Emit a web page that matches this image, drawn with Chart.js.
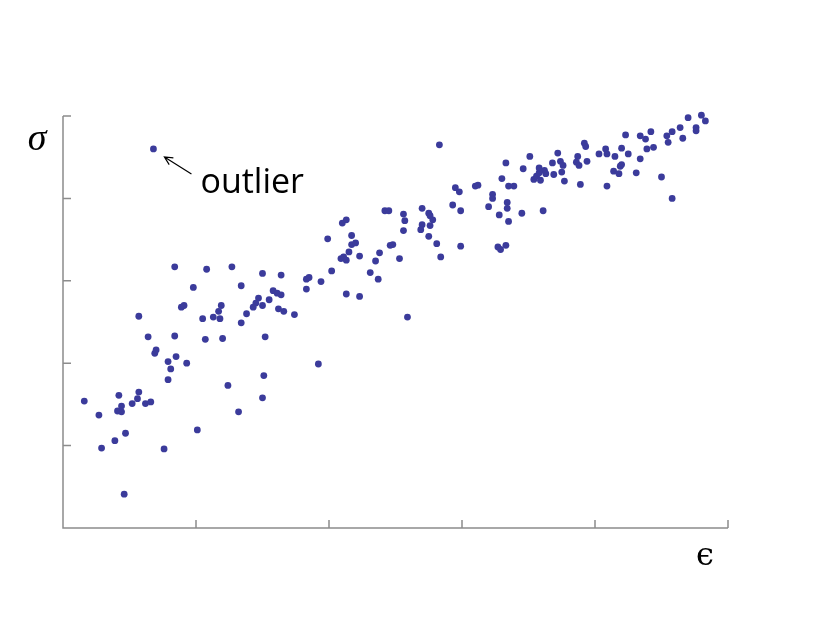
<!DOCTYPE html>
<html>
<head>
<meta charset="utf-8">
<script src="https://cdn.jsdelivr.net/npm/chart.js@4/dist/chart.umd.min.js"></script>
<style>
  html, body { margin: 0; padding: 0; background: #fff; }
  #wrap { width: 822px; height: 617px; }
</style>
</head>
<body>
<div id="wrap"><canvas id="scatterChart" width="822" height="617"></canvas></div>
<script>
// strain (epsilon) and stress (sigma), axis units 0..5
const strainValues = [
  0.16, 0.27, 0.29, 0.39, 0.47, 0.46, 0.42, 0.41, 0.44, 0.44,
  0.52, 0.56, 0.57, 0.62, 0.66, 0.76, 0.79, 0.81, 0.79, 0.85,
  0.93, 1.01, 1.24, 0.69, 0.70, 0.64, 0.84, 0.57, 0.89, 0.91,
  0.98, 0.84, 1.08, 1.27, 1.07, 1.20, 1.05, 1.13, 1.18, 1.17,
  1.19, 0.68, 1.50, 1.64, 1.34, 1.58, 1.61, 1.64, 1.47, 1.55,
  1.45, 1.43, 1.50, 1.38, 1.62, 1.66, 1.74, 1.34, 1.52, 1.92,
  1.51, 1.50, 1.32, 1.83, 1.85, 1.83, 1.94, 2.02, 1.99, 2.13,
  2.10, 2.17, 2.17, 2.20, 2.15, 2.09, 2.11, 2.13, 2.23, 2.13,
  2.23, 2.31, 2.35, 2.38, 2.37, 2.48, 2.46, 2.53, 2.42, 2.45,
  2.56, 2.57, 2.56, 2.70, 2.75, 2.76, 2.78, 2.70, 2.69, 2.76,
  2.75, 2.81, 2.84, 2.83, 2.93, 2.99, 2.95, 2.98, 2.99, 3.10,
  3.12, 3.20, 3.23, 3.23, 3.27, 3.29, 3.33, 3.28, 3.30, 3.33,
  3.34, 3.34, 3.35, 3.35, 3.39, 3.45, 3.46, 3.51, 3.54, 3.56,
  2.59, 3.58, 3.58, 3.59, 3.62, 3.63, 3.61, 3.68, 3.72, 3.69,
  3.74, 3.76, 3.75, 3.77, 3.87, 3.86, 3.88, 3.92, 3.93, 3.94,
  3.89, 4.03, 4.08, 4.09, 4.15, 4.09, 4.14, 4.18, 4.19, 4.20,
  4.20, 4.23, 4.25, 4.31, 4.34, 4.34, 4.38, 4.39, 4.44, 4.42,
  4.50, 4.58, 4.54, 4.55, 4.58, 4.66, 4.64, 4.70, 4.76, 4.76,
  4.80, 4.83
];
const stressValues = [
  1.54, 1.37, 0.97, 1.06, 1.15, 0.41, 1.61, 1.42, 1.41, 1.48,
  1.51, 1.57, 1.65, 1.51, 1.53, 0.96, 1.80, 1.93, 2.02, 2.08,
  2.00, 1.19, 1.73, 2.12, 2.16, 2.32, 2.33, 2.57, 2.68, 2.70,
  2.92, 3.17, 3.14, 3.17, 2.29, 2.30, 2.54, 2.56, 2.54, 2.63,
  2.70, 4.60, 3.09, 3.07, 2.94, 2.88, 2.85, 2.83, 2.79, 2.77,
  2.73, 2.68, 2.70, 2.60, 2.66, 2.63, 2.59, 2.49, 2.32, 1.99,
  1.85, 1.58, 1.41, 3.02, 3.04, 2.90, 2.99, 3.12, 3.51, 3.74,
  3.70, 3.55, 3.44, 3.46, 3.35, 3.27, 3.29, 3.25, 3.30, 2.84,
  2.81, 3.10, 3.24, 3.34, 3.02, 3.44, 3.43, 3.27, 3.85, 3.85,
  3.81, 3.73, 3.61, 3.88, 3.82, 3.79, 3.74, 3.68, 3.62, 3.67,
  3.54, 3.45, 3.29, 4.65, 3.92, 3.85, 4.13, 4.08, 3.42, 4.15,
  4.16, 3.90, 4.05, 4.00, 3.41, 3.38, 3.43, 3.80, 4.24, 4.43,
  3.95, 3.88, 3.72, 4.15, 4.15, 3.82, 4.36, 4.51, 4.23, 4.27,
  2.56, 4.31, 4.37, 4.22, 4.34, 4.30, 3.85, 4.43, 4.55, 4.29,
  4.45, 4.40, 4.32, 4.21, 4.51, 4.44, 4.40, 4.67, 4.63, 4.45,
  4.17, 4.54, 4.60, 4.54, 4.51, 4.15, 4.33, 4.30, 4.39, 4.41,
  4.61, 4.77, 4.54, 4.31, 4.48, 4.76, 4.72, 4.60, 4.62, 4.81,
  4.26, 4.00, 4.76, 4.68, 4.81, 4.73, 4.86, 4.98, 4.86, 4.82,
  5.01, 4.94
];
const xTickValues = [1, 2, 3, 4, 5];
const yTickValues = [1, 2, 3, 4, 5];
const outlierIndex = 41;

const points = strainValues.map((x, i) => ({ x: x, y: stressValues[i] }));

const axisColor = '#8c8c8c';

// draws the L-shaped axes with inward ticks, the symbols and the outlier note
const axesPlugin = {
    id: 'axesPlugin',
    afterDraw(chart) {
        const ctx = chart.ctx;
        const xs = chart.scales.x;
        const ys = chart.scales.y;
        const x0 = xs.getPixelForValue(0);
        const y0 = ys.getPixelForValue(0);
        const xEnd = xs.getPixelForValue(5);
        const yEnd = ys.getPixelForValue(5);
        const tick = 8;

        ctx.save();
        ctx.strokeStyle = axisColor;
        ctx.lineWidth = 1.5;
        ctx.beginPath();
        ctx.moveTo(x0, yEnd);
        ctx.lineTo(x0, y0);
        ctx.lineTo(xEnd, y0);
        xTickValues.forEach(v => {
            const px = xs.getPixelForValue(v);
            ctx.moveTo(px, y0);
            ctx.lineTo(px, y0 - tick);
        });
        yTickValues.forEach(v => {
            const py = ys.getPixelForValue(v);
            ctx.moveTo(x0, py);
            ctx.lineTo(x0 + tick, py);
        });
        ctx.stroke();

        // axis symbols
        ctx.fillStyle = '#000';
        ctx.textAlign = 'center';
        ctx.textBaseline = 'alphabetic';
        ctx.font = 'italic 38px "Liberation Serif"';
        ctx.fillText('σ', x0 - 26, yEnd + 34);
        ctx.font = '32px "DejaVu Serif"';
        ctx.fillText('ϵ', xEnd - 23, y0 + 37);

        // outlier note
        const ox = xs.getPixelForValue(strainValues[outlierIndex]);
        const oy = ys.getPixelForValue(stressValues[outlierIndex]);
        const hx = ox + 11, hy = oy + 8;
        const tx = ox + 38, ty = oy + 25;
        ctx.strokeStyle = '#000';
        ctx.lineWidth = 1.2;
        ctx.beginPath();
        ctx.moveTo(tx, ty);
        ctx.lineTo(hx, hy);
        const ang = Math.atan2(ty - hy, tx - hx);
        ctx.moveTo(hx + 9 * Math.cos(ang - 0.45), hy + 9 * Math.sin(ang - 0.45));
        ctx.lineTo(hx, hy);
        ctx.lineTo(hx + 9 * Math.cos(ang + 0.45), hy + 9 * Math.sin(ang + 0.45));
        ctx.stroke();
        ctx.textAlign = 'left';
        ctx.font = '34px "Open Sans"';
        ctx.fillText('outlier', ox + 47, oy + 44.5);
        ctx.restore();
    }
};

const ctx = document.getElementById('scatterChart').getContext('2d');
new Chart(ctx, {
    type: 'scatter',
    data: {
        datasets: [{
            label: 'stress vs strain',
            data: points,
            backgroundColor: '#3b3b9b',
            borderColor: '#3b3b9b',
            borderWidth: 0,
            pointRadius: 3.4,
            clip: false
        }]
    },
    options: {
        responsive: false,
        animation: false,
        layout: {
            padding: { left: 63, right: 94, top: 116, bottom: 89 }
        },
        plugins: {
            legend: { display: false },
            tooltip: { enabled: false }
        },
        scales: {
            x: {
                type: 'linear',
                display: false,
                min: 0,
                max: 5
            },
            y: {
                type: 'linear',
                display: false,
                min: 0,
                max: 5
            }
        }
    },
    plugins: [axesPlugin]
});
</script>
</body>
</html>
